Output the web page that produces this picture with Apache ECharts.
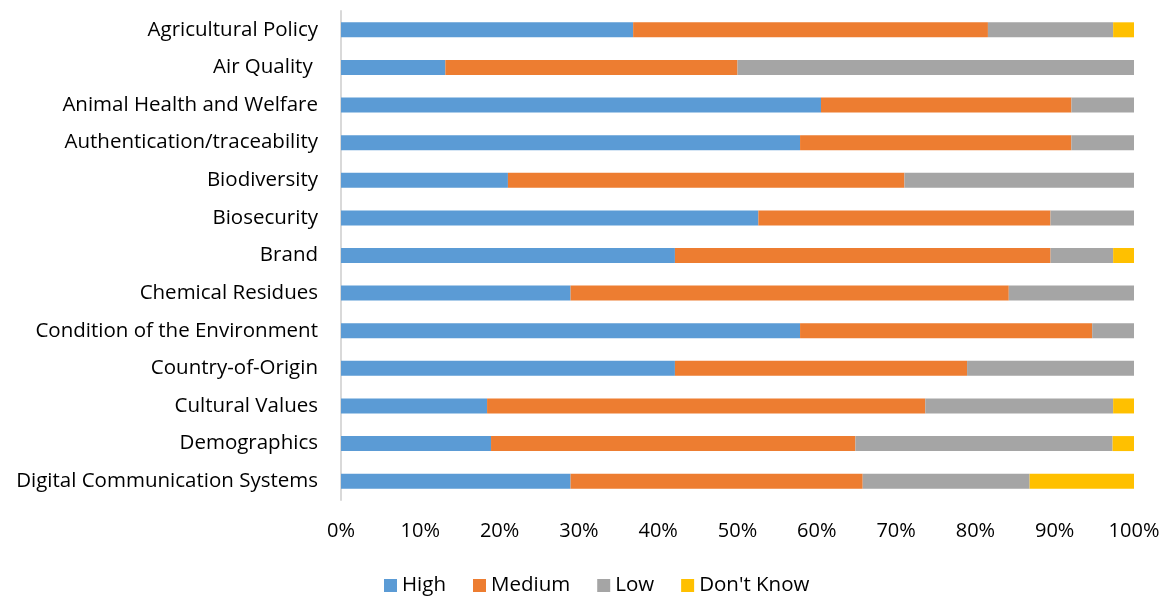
<!DOCTYPE html>
<html>
<head>
<meta charset="utf-8">
<script src="https://cdn.jsdelivr.net/npm/echarts@6/dist/echarts.min.js"></script>
<style>
  html, body { margin: 0; padding: 0; background: #ffffff; }
  #chart { width: 1167px; height: 596px; }
</style>
</head>
<body>
<div id="chart"></div>
<script>
// Topics, listed top to bottom
const topics = [
  'Agricultural Policy',
  'Air Quality ',
  'Animal Health and Welfare',
  'Authentication/traceability',
  'Biodiversity',
  'Biosecurity',
  'Brand',
  'Chemical Residues',
  'Condition of the Environment',
  'Country-of-Origin',
  'Cultural Values',
  'Demographics',
  'Digital Communication Systems'
];

// Share of responses per rating (%), same order as topics
const high     = [36.84, 13.16, 60.53, 57.89, 21.05, 52.63, 42.11, 28.95, 57.89, 42.11, 18.42, 18.92, 28.95];
const medium   = [44.74, 36.84, 31.58, 34.21, 50.00, 36.84, 47.37, 55.26, 36.84, 36.84, 55.26, 45.95, 36.84];
const low      = [15.79, 50.00,  7.89,  7.90, 28.95, 10.53,  7.89, 15.79,  5.27, 21.05, 23.69, 32.43, 21.05];
const dontKnow = [ 2.63,  0,     0,     0,     0,     0,     2.63,  0,     0,     0,     2.63,  2.70, 13.16];

const seriesNames = ['High', 'Medium', 'Low', "Don't Know"];
const colors = ['#5B9BD5', '#ED7D31', '#A5A5A5', '#FFC000'];

const font = '"Open Sans", "Noto Sans", sans-serif';

const chart = echarts.init(document.getElementById('chart'), null, { renderer: 'canvas' });

const makeSeries = (name, values, color) => ({
  name: name,
  type: 'bar',
  stack: 'total',
  data: values,
  barWidth: 15,
  itemStyle: { color: color },
  emphasis: { disabled: true }
});

chart.setOption({
  animation: false,
  color: colors,
  grid: { left: 341, right: 33, top: 11, bottom: 96, containLabel: false },
  legend: {
    data: seriesNames,
    top: 570,
    left: 379,
    icon: 'rect',
    itemWidth: 13,
    itemHeight: 13,
    itemGap: 27,
    textStyle: { fontFamily: font, fontSize: 20.5, color: '#000000', padding: [0, 0, 0, 0] }
  },
  xAxis: {
    type: 'value',
    min: 0,
    max: 100,
    interval: 10,
    axisLine: { show: false },
    axisTick: { show: false },
    splitLine: { show: false },
    axisLabel: {
      formatter: '{value}%',
      margin: 21,
      fontFamily: font,
      fontSize: 20,
      color: '#000000'
    }
  },
  yAxis: {
    type: 'category',
    data: topics,
    inverse: true,
    axisLine: { show: true, lineStyle: { color: '#D9D9D9', width: 2 } },
    axisTick: { show: false },
    splitLine: { show: false },
    axisLabel: {
      margin: 23,
      fontFamily: font,
      fontSize: 20.5,
      color: '#000000'
    }
  },
  series: [
    makeSeries(seriesNames[0], high, colors[0]),
    makeSeries(seriesNames[1], medium, colors[1]),
    makeSeries(seriesNames[2], low, colors[2]),
    makeSeries(seriesNames[3], dontKnow, colors[3])
  ]
});
</script>
</body>
</html>
